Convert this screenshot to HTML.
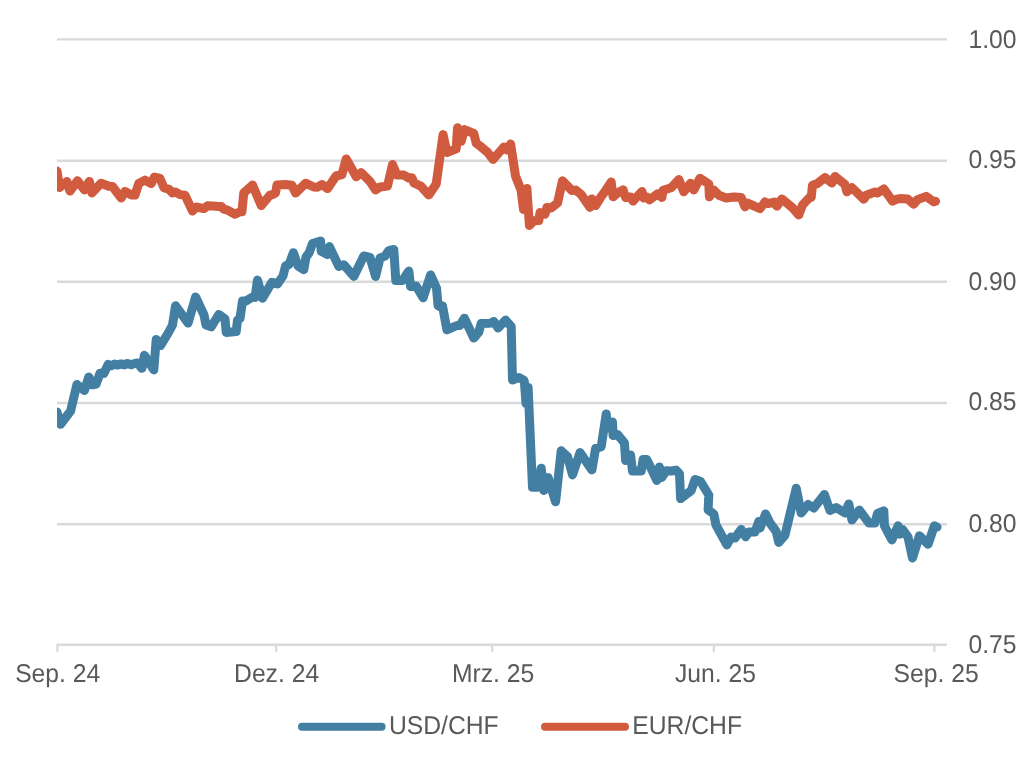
<!DOCTYPE html>
<html><head><meta charset="utf-8"><style>
html,body{margin:0;padding:0;background:#fff;width:1024px;height:775px;overflow:hidden}
svg{display:block;will-change:transform}
text{font-family:"Liberation Sans",sans-serif;font-size:24.7px;fill:#595959;text-rendering:geometricPrecision}
</style></head><body>
<svg width="1024" height="775" viewBox="0 0 1024 775">
<line x1="57" y1="39.4" x2="947" y2="39.4" stroke="#d9d9d9" stroke-width="2.4"/>
<line x1="57" y1="160.8" x2="947" y2="160.8" stroke="#d9d9d9" stroke-width="2.4"/>
<line x1="57" y1="281.8" x2="947" y2="281.8" stroke="#d9d9d9" stroke-width="2.4"/>
<line x1="57" y1="403.0" x2="947" y2="403.0" stroke="#d9d9d9" stroke-width="2.4"/>
<line x1="57" y1="524.3" x2="947" y2="524.3" stroke="#d9d9d9" stroke-width="2.4"/>
<line x1="57" y1="644.7" x2="947" y2="644.7" stroke="#d9d9d9" stroke-width="2.4"/>
<line x1="57.4" y1="644" x2="57.4" y2="652" stroke="#d9d9d9" stroke-width="2.2"/>
<line x1="276.2" y1="644" x2="276.2" y2="652" stroke="#d9d9d9" stroke-width="2.2"/>
<line x1="492.25" y1="644" x2="492.25" y2="652" stroke="#d9d9d9" stroke-width="2.2"/>
<line x1="713.8" y1="644" x2="713.8" y2="652" stroke="#d9d9d9" stroke-width="2.2"/>
<line x1="934.4" y1="644" x2="934.4" y2="652" stroke="#d9d9d9" stroke-width="2.2"/>
<text transform="translate(968.5,48.00) scale(1,1.04)">1.00</text>
<text transform="translate(968.5,168.00) scale(1,1.04)">0.95</text>
<text transform="translate(968.5,290.00) scale(1,1.04)">0.90</text>
<text transform="translate(968.5,410.00) scale(1,1.04)">0.85</text>
<text transform="translate(968.5,532.00) scale(1,1.04)">0.80</text>
<text transform="translate(968.5,653.00) scale(1,1.04)">0.75</text>
<text transform="translate(57.70,682.2) scale(1,1.04)" text-anchor="middle">Sep. 24</text>
<text transform="translate(276.60,682.2) scale(1,1.04)" text-anchor="middle">Dez. 24</text>
<text transform="translate(493.15,682.2) scale(1,1.04)" text-anchor="middle">Mrz. 25</text>
<text transform="translate(715.40,682.2) scale(1,1.04)" text-anchor="middle">Jun. 25</text>
<text transform="translate(936.05,682.2) scale(1,1.04)" text-anchor="middle">Sep. 25</text>
<defs><clipPath id="c"><rect x="57" y="0" width="967" height="700"/></clipPath></defs>
<path clip-path="url(#c)" d="M57.0,171.0 L59.5,187.5 L66.9,181.5 L70.0,191.1 L77.5,180.8 L84.4,189.9 L89.4,181.4 L91.9,193.0 L101.2,183.2 L108.8,186.2 L112.5,186.5 L121.2,198.0 L125.0,191.4 L131.2,194.9 L135.0,195.0 L138.8,183.4 L145.0,180.1 L151.2,183.6 L154.4,177.0 L160.0,178.4 L164.0,187.8 L169.4,189.6 L172.5,193.0 L175.6,192.0 L180.0,194.6 L185.0,195.2 L192.5,211.1 L196.2,207.0 L203.8,208.6 L207.5,205.8 L212.5,205.9 L218.8,206.4 L221.2,206.4 L223.8,209.2 L227.5,210.1 L235.0,214.2 L240.0,211.8 L241.9,211.8 L243.8,192.8 L252.5,185.1 L261.2,205.5 L270.0,195.2 L272.5,194.6 L275.5,193.0 L277.0,185.0 L285.0,184.5 L291.9,185.2 L295.6,193.0 L305.6,183.2 L313.8,187.0 L317.5,187.2 L321.9,184.5 L327.5,188.6 L336.2,175.8 L341.9,174.9 L346.2,158.9 L356.2,176.8 L361.2,172.6 L370.0,181.5 L375.6,189.9 L380.0,187.0 L387.5,186.1 L392.5,164.5 L396.9,174.9 L403.8,175.1 L408.8,178.0 L411.9,177.8 L414.0,183.0 L421.2,186.4 L428.8,195.0 L436.2,183.9 L443.1,134.6 L446.9,152.5 L456.2,148.9 L457.5,127.8 L461.2,141.2 L464.4,129.6 L473.8,133.5 L476.2,143.2 L480.0,146.0 L487.5,152.2 L493.1,159.4 L503.8,147.1 L506.9,150.0 L510.6,144.0 L515.5,176.0 L521.0,190.0 L523.5,209.5 L526.9,188.5 L529.4,225.5 L533.8,220.8 L538.8,220.5 L540.0,212.6 L545.0,214.2 L546.9,207.6 L551.2,207.9 L557.5,203.0 L562.5,180.8 L571.9,190.5 L575.6,190.1 L581.2,194.6 L590.0,207.4 L591.9,198.9 L595.6,205.5 L601.2,196.5 L605.0,191.5 L611.2,182.0 L613.1,196.8 L617.5,193.0 L623.1,189.8 L625.6,197.4 L630.6,197.0 L633.1,201.1 L641.9,191.4 L643.8,198.0 L646.9,197.0 L649.4,199.9 L657.5,193.9 L661.9,197.4 L663.1,190.2 L671.2,187.8 L678.8,179.5 L683.8,191.8 L690.6,183.2 L693.8,189.9 L700.0,178.2 L708.8,184.0 L709.4,196.8 L713.8,190.1 L718.8,195.2 L726.2,198.0 L733.8,197.0 L741.2,197.5 L745.0,206.8 L748.1,203.2 L753.8,205.9 L760.0,208.6 L765.0,202.0 L768.1,203.6 L774.4,202.0 L776.9,206.1 L781.9,198.9 L792.5,207.8 L798.8,214.9 L802.5,205.0 L810.0,197.0 L811.2,197.4 L812.5,185.2 L817.5,183.4 L825.0,177.6 L831.9,183.0 L835.0,176.4 L845.0,184.6 L846.9,191.8 L851.9,187.6 L863.8,199.2 L866.2,195.2 L875.0,192.0 L877.5,193.0 L883.8,188.9 L892.5,201.1 L897.5,198.9 L900.0,198.6 L907.5,198.9 L913.8,204.2 L917.5,199.6 L926.2,196.4 L933.8,201.8 L935.5,201.2" fill="none" stroke="#d05b3f" stroke-width="9" stroke-linejoin="round" stroke-linecap="round"/>
<path clip-path="url(#c)" d="M57.0,412.0 L60.6,424.2 L70.6,411.0 L76.9,384.5 L84.4,390.5 L88.8,377.0 L92.5,384.9 L96.2,384.1 L100.0,373.2 L103.8,373.6 L108.1,364.5 L111.2,365.8 L114.4,364.1 L117.5,365.1 L121.2,363.9 L124.4,364.9 L127.5,363.4 L131.2,364.8 L135.0,363.4 L137.5,362.9 L141.9,368.3 L144.4,355.3 L153.8,369.9 L156.2,339.5 L160.6,345.5 L168.8,332.0 L172.5,325.0 L175.6,305.8 L188.1,323.0 L195.6,297.0 L204.0,315.0 L206.0,325.0 L211.2,326.8 L218.8,314.5 L225.0,319.0 L226.2,332.4 L236.2,331.6 L237.5,320.0 L240.0,318.5 L242.5,301.0 L246.2,300.9 L252.5,297.0 L255.0,297.4 L257.5,280.1 L262.5,298.2 L271.9,282.2 L277.5,283.9 L283.0,276.0 L285.5,266.0 L289.0,264.5 L293.4,252.7 L298.0,266.0 L303.8,269.7 L306.0,257.0 L309.0,253.0 L312.5,243.6 L320.6,241.0 L321.2,251.2 L327.5,254.5 L329.4,246.6 L338.8,266.4 L343.8,264.8 L353.8,276.4 L363.8,256.0 L370.0,257.4 L375.6,276.4 L380.0,258.0 L385.0,256.1 L388.8,250.6 L393.8,249.5 L395.8,280.5 L402.5,280.4 L408.8,271.1 L410.6,286.5 L416.2,286.0 L423.1,297.8 L430.6,274.9 L436.5,288.0 L438.1,305.8 L440.6,307.0 L442.5,305.8 L446.9,329.9 L456.9,325.5 L460.0,325.4 L464.4,318.2 L473.8,338.0 L478.8,332.0 L481.2,323.4 L488.8,323.2 L491.2,323.0 L493.8,321.4 L498.1,328.0 L505.6,320.1 L511.2,326.5 L512.5,379.9 L518.8,377.6 L523.8,380.2 L524.4,382.0 L526.0,403.5 L528.1,387.5 L532.5,487.2 L537.5,487.2 L541.2,468.2 L543.8,490.5 L548.1,477.6 L555.6,501.8 L561.2,450.8 L567.5,456.5 L572.5,474.9 L580.0,452.6 L591.9,469.9 L595.6,448.4 L601.2,446.6 L606.2,413.9 L607.5,428.0 L612.5,422.0 L613.1,435.5 L617.5,434.5 L624.4,442.8 L625.6,460.5 L630.6,455.1 L632.5,471.0 L641.2,471.0 L643.1,459.5 L646.9,459.6 L656.9,480.5 L659.4,467.0 L661.9,477.4 L666.2,470.8 L671.9,471.0 L676.2,470.1 L679.5,474.0 L680.6,498.6 L691.2,490.6 L695.0,479.5 L700.6,481.5 L708.8,495.0 L708.1,509.8 L713.8,514.0 L716.0,525.0 L726.9,544.9 L731.2,537.0 L735.0,538.0 L741.2,529.5 L745.6,536.8 L748.8,532.1 L755.0,532.0 L758.8,521.4 L760.0,528.0 L765.6,513.9 L770.0,523.0 L776.2,531.5 L778.8,542.4 L785.0,535.0 L796.2,488.2 L801.2,513.0 L808.1,504.5 L813.8,508.0 L824.4,494.5 L830.0,510.5 L836.2,507.6 L845.0,513.0 L848.8,503.9 L851.9,519.9 L859.4,510.1 L868.8,522.9 L875.0,522.9 L877.5,513.4 L883.8,510.8 L884.5,526.0 L891.9,539.9 L898.1,525.8 L900.0,534.2 L902.5,529.5 L908.0,537.0 L912.5,558.0 L919.4,535.8 L928.1,544.2 L934.4,525.8 L937.0,527.0" fill="none" stroke="#427fa2" stroke-width="9" stroke-linejoin="round" stroke-linecap="round"/>
<line x1="302" y1="726.8" x2="381.6" y2="726.8" stroke="#427fa2" stroke-width="8" stroke-linecap="round"/>
<text transform="translate(388.9,734.3) scale(1,1.04)">USD/CHF</text>
<line x1="545" y1="726.8" x2="625" y2="726.8" stroke="#d05b3f" stroke-width="8" stroke-linecap="round"/>
<text transform="translate(632.3,734.3) scale(1,1.04)">EUR/CHF</text>
</svg>
</body></html>
